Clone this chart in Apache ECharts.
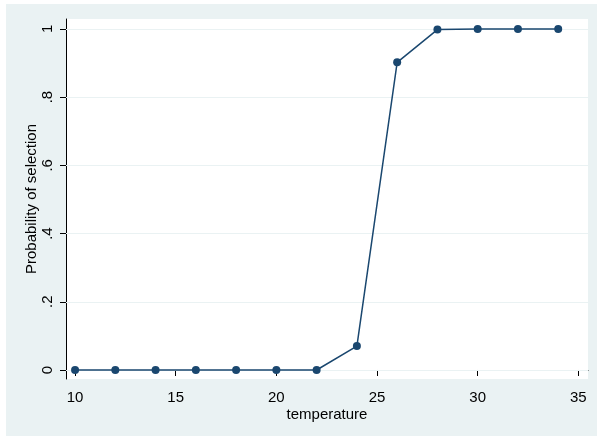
<!DOCTYPE html>
<html><head><meta charset="utf-8">
<script src="https://cdn.jsdelivr.net/npm/echarts@6/dist/echarts.min.js"></script>
<style>html,body{margin:0;padding:0;background:#fff;}#c{width:597px;height:436px;}</style>
</head><body><div id="c"></div>
<script>
var temperature = [10,12,14,16,18,20,22,24,26,28,30,32,34];
var probability = [0,0,0,0,0,0,0,0.07,0.902,0.998,1,1,1];
var xTicks = [10,15,20,25,30,35];
var yTicks = [0,0.2,0.4,0.6,0.8,1];
var yTickLabels = ['0','.2','.4','.6','.8','1'];
var FONT = 'Liberation Sans, Arial, sans-serif';
var chart = echarts.init(document.getElementById('c'));
chart.setOption({
  animation:false,
  backgroundColor:'#fff',
  graphic:[{type:'rect',z:-10,shape:{x:6,y:4,width:591,height:432},style:{fill:'#EAF2F3'}}],
  grid:{left:66,top:19,width:522,height:360,show:true,backgroundColor:'#fff',borderWidth:0},
  xAxis:{type:'value',min:9.55,max:35.48,
    name:'temperature',nameLocation:'middle',nameGap:28,nameMoveOverlap:false,
    nameTextStyle:{fontFamily:FONT,fontSize:15,color:'#000'},
    axisLine:{show:true,lineStyle:{color:'#000',width:1}},
    axisTick:{show:true,length:6,customValues:xTicks,lineStyle:{color:'#000'}},
    axisLabel:{customValues:xTicks,margin:11,fontFamily:FONT,fontSize:15,color:'#000'},
    splitLine:{show:false}},
  yAxis:{type:'value',min:-0.0264,max:1.029,
    name:'Probability of selection',nameLocation:'middle',nameGap:27,nameMoveOverlap:false,
    nameTextStyle:{fontFamily:FONT,fontSize:15,color:'#000'},
    axisLine:{show:true,lineStyle:{color:'#000',width:1}},
    axisTick:{show:true,length:6,customValues:yTicks,lineStyle:{color:'#000'}},
    axisLabel:{customValues:yTicks,rotate:90,margin:11,fontFamily:FONT,fontSize:15,color:'#000',
      formatter:function(v){var i=yTicks.findIndex(function(t){return Math.abs(t-v)<1e-6});return i>=0?yTickLabels[i]:'';}},
    splitLine:{show:false}},
  series:[{type:'line',data:temperature.map(function(t,i){return [t,probability[i]];}),
    symbol:'circle',symbolSize:8,showSymbol:true,
    lineStyle:{color:'#1a476f',width:1.5},itemStyle:{color:'#1a476f'},
    markLine:{silent:true,symbol:'none',label:{show:false},z:1,
      lineStyle:{color:'#EAF2F3',width:1,type:'solid'},
      data:yTicks.map(function(v){return {yAxis:v};})}}]
});
</script></body></html>
